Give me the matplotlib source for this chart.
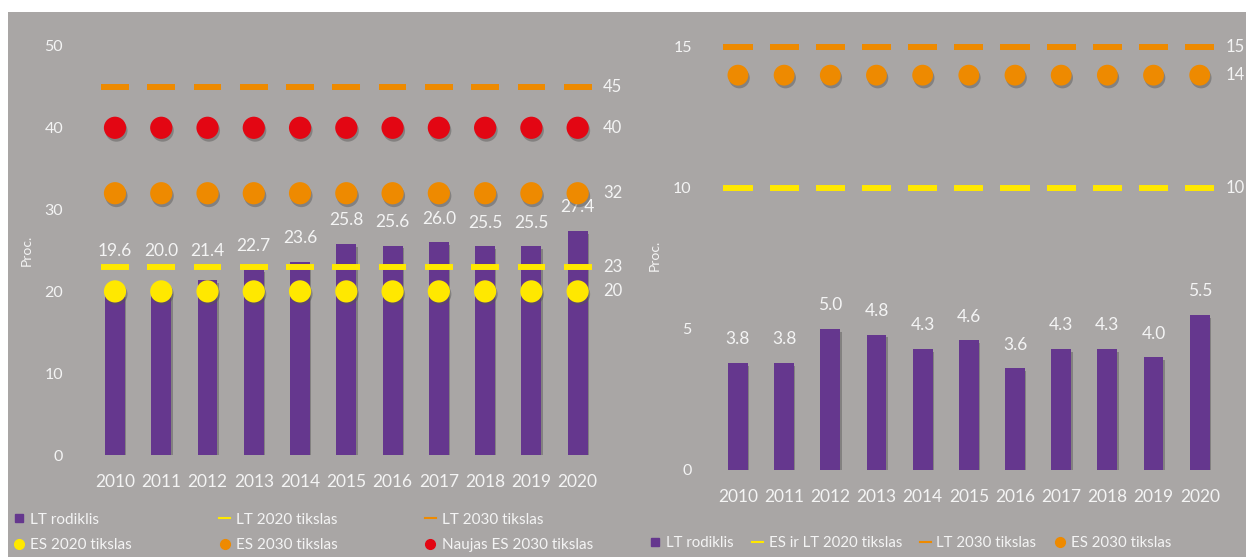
import matplotlib
matplotlib.use("Agg")
import matplotlib.pyplot as plt
import matplotlib.patheffects as pe
from matplotlib.lines import Line2D
from matplotlib.patches import Rectangle
import numpy as np

years = ['2010', '2011', '2012', '2013', '2014', '2015', '2016', '2017', '2018', '2019', '2020']

# left chart
lt_rodiklis_l = [19.6, 20.0, 21.4, 22.7, 23.6, 25.8, 25.6, 26.0, 25.5, 25.5, 27.4]
lt_2020_l = 23
lt_2030_l = 45
es_2020_l = 20
es_2030_l = 32
naujas_es_2030_l = 40

# right chart
lt_rodiklis_r = [3.8, 3.8, 5.0, 4.8, 4.3, 4.6, 3.6, 4.3, 4.3, 4.0, 5.5]
es_lt_2020_r = 10
lt_2030_r = 15
es_2030_r = 14

BG = '#a9a6a5'
PURPLE = '#65378e'
YELLOW = '#ffe800'
ORANGE = '#ee8a00'
RED = '#e30613'
TXT = '#f4f4f4'

plt.rcParams['font.family'] = ['Lato', 'DejaVu Sans']

fig = plt.figure(figsize=(12.46, 5.57), dpi=100)
fig.patch.set_facecolor('white')
fig.patches.append(Rectangle((8 / 1246, 0), 1, 1 - 12 / 557, transform=fig.transFigure,
                             facecolor=BG, edgecolor='none', zorder=-10))

shadow = [pe.SimplePatchShadow(offset=(1, -2), shadow_rgbFace='#555555', alpha=0.45), pe.Normal()]

x = np.arange(len(years))


def style_axes(ax, ymax, yticks, pad_y):
    ax.set_facecolor('none')
    for s in ax.spines.values():
        s.set_visible(False)
    ax.set_xlim(-0.7, 10.7)
    ax.set_ylim(0, ymax)
    ax.set_yticks(yticks)
    ax.set_xticks(x)
    ax.set_xticklabels(years)
    ax.tick_params(axis='both', length=0, colors=TXT, labelsize=12.5)
    ax.tick_params(axis='y', pad=pad_y, labelsize=11.5)
    ax.tick_params(axis='x', pad=14)


def marks(ax, y, kind, color, size):
    yy = [y] * len(x)
    if kind == 'dash':
        ln, = ax.plot(x, yy, linestyle='none', marker='_', markersize=size,
                      markeredgewidth=4.3, color=color, zorder=4)
    else:
        ln, = ax.plot(x, yy, linestyle='none', marker='o', markersize=size,
                      color=color, markeredgewidth=0, zorder=4)
    ln.set_path_effects(shadow)
    ax.text(10.55, y, str(y), color=TXT, fontsize=12, va='center', ha='left', clip_on=False)


# ---- left
axl = fig.add_axes([0.0663, 0.1831, 0.4233, 0.7637])
style_axes(axl, 52, [0, 10, 20, 30, 40, 50], 14)
bars = axl.bar(x, lt_rodiklis_l, width=0.43, color=PURPLE, zorder=2)
for b in bars:
    b.set_path_effects(shadow)
marks(axl, lt_2030_l, 'dash', ORANGE, 20)
marks(axl, naujas_es_2030_l, 'dot', RED, 16)
marks(axl, es_2030_l, 'dot', ORANGE, 16)
marks(axl, lt_2020_l, 'dash', YELLOW, 20)
marks(axl, es_2020_l, 'dot', YELLOW, 16)
for i, v in enumerate(lt_rodiklis_l):
    axl.annotate(f'{v:.1f}', (i, max(v, 22.0)), xytext=(0, 17), textcoords='offset points',
                 ha='center', va='center', color=TXT, fontsize=12.5)
fig.text(27 / 1246, 1 - 250 / 557, 'Proc.', rotation=90, color=TXT, fontsize=10,
         ha='center', va='center')

# ---- right
axr = fig.add_axes([0.5663, 0.1562, 0.4225, 0.800])
style_axes(axr, 15.8, [0, 5, 10, 15], 10)
bars = axr.bar(x, lt_rodiklis_r, width=0.43, color=PURPLE, zorder=2)
for b in bars:
    b.set_path_effects(shadow)
marks(axr, lt_2030_r, 'dash', ORANGE, 21)
marks(axr, es_2030_r, 'dot', ORANGE, 15)
marks(axr, es_lt_2020_r, 'dash', YELLOW, 21)
for i, v in enumerate(lt_rodiklis_r):
    axr.annotate(f'{v:.1f}', (i, v), xytext=(0, 17), textcoords='offset points',
                 ha='center', va='center', color=TXT, fontsize=12.5)
fig.text(655 / 1246, 1 - 255 / 557, 'Proc.', rotation=90, color=TXT, fontsize=10,
         ha='center', va='center')

# ---- legends
def sq(c):
    return Line2D([], [], linestyle='none', marker='s', markersize=6, color=c)


def dash(c):
    return Line2D([], [], color=c, linewidth=1.5)


def dot(c):
    return Line2D([], [], linestyle='none', marker='o', markersize=7, color=c)


h_left = [sq(PURPLE), dot(YELLOW), dash(YELLOW), dot(ORANGE), dash(ORANGE), dot(RED)]
l_left = ['LT rodiklis', 'ES 2020 tikslas', 'LT 2020 tikslas', 'ES 2030 tikslas',
          'LT 2030 tikslas', 'Naujas ES 2030 tikslas']
leg1 = fig.legend(h_left, l_left, ncol=3, loc='upper left', bbox_to_anchor=(9 / 1246, 1 - 508 / 557),
                  frameon=False, fontsize=11, labelcolor=TXT, handlelength=0.7, handletextpad=0.4,
                  columnspacing=5.7, labelspacing=0.75, borderaxespad=0, borderpad=0.3)

h_right = [sq(PURPLE), dash(YELLOW), dash(ORANGE), dot(ORANGE)]
l_right = ['LT rodiklis', 'ES ir LT 2020 tikslas', 'LT 2030 tikslas', 'ES 2030 tikslas']
leg2 = fig.legend(h_right, l_right, ncol=4, loc='center left', bbox_to_anchor=(650 / 1246, 1 - 543 / 557),
                  frameon=False, fontsize=10.8, labelcolor=TXT, handlelength=0.7, handletextpad=0.4,
                  columnspacing=1.2, borderaxespad=0, borderpad=0)

fig.savefig('out.png', dpi=100, facecolor=fig.get_facecolor())
